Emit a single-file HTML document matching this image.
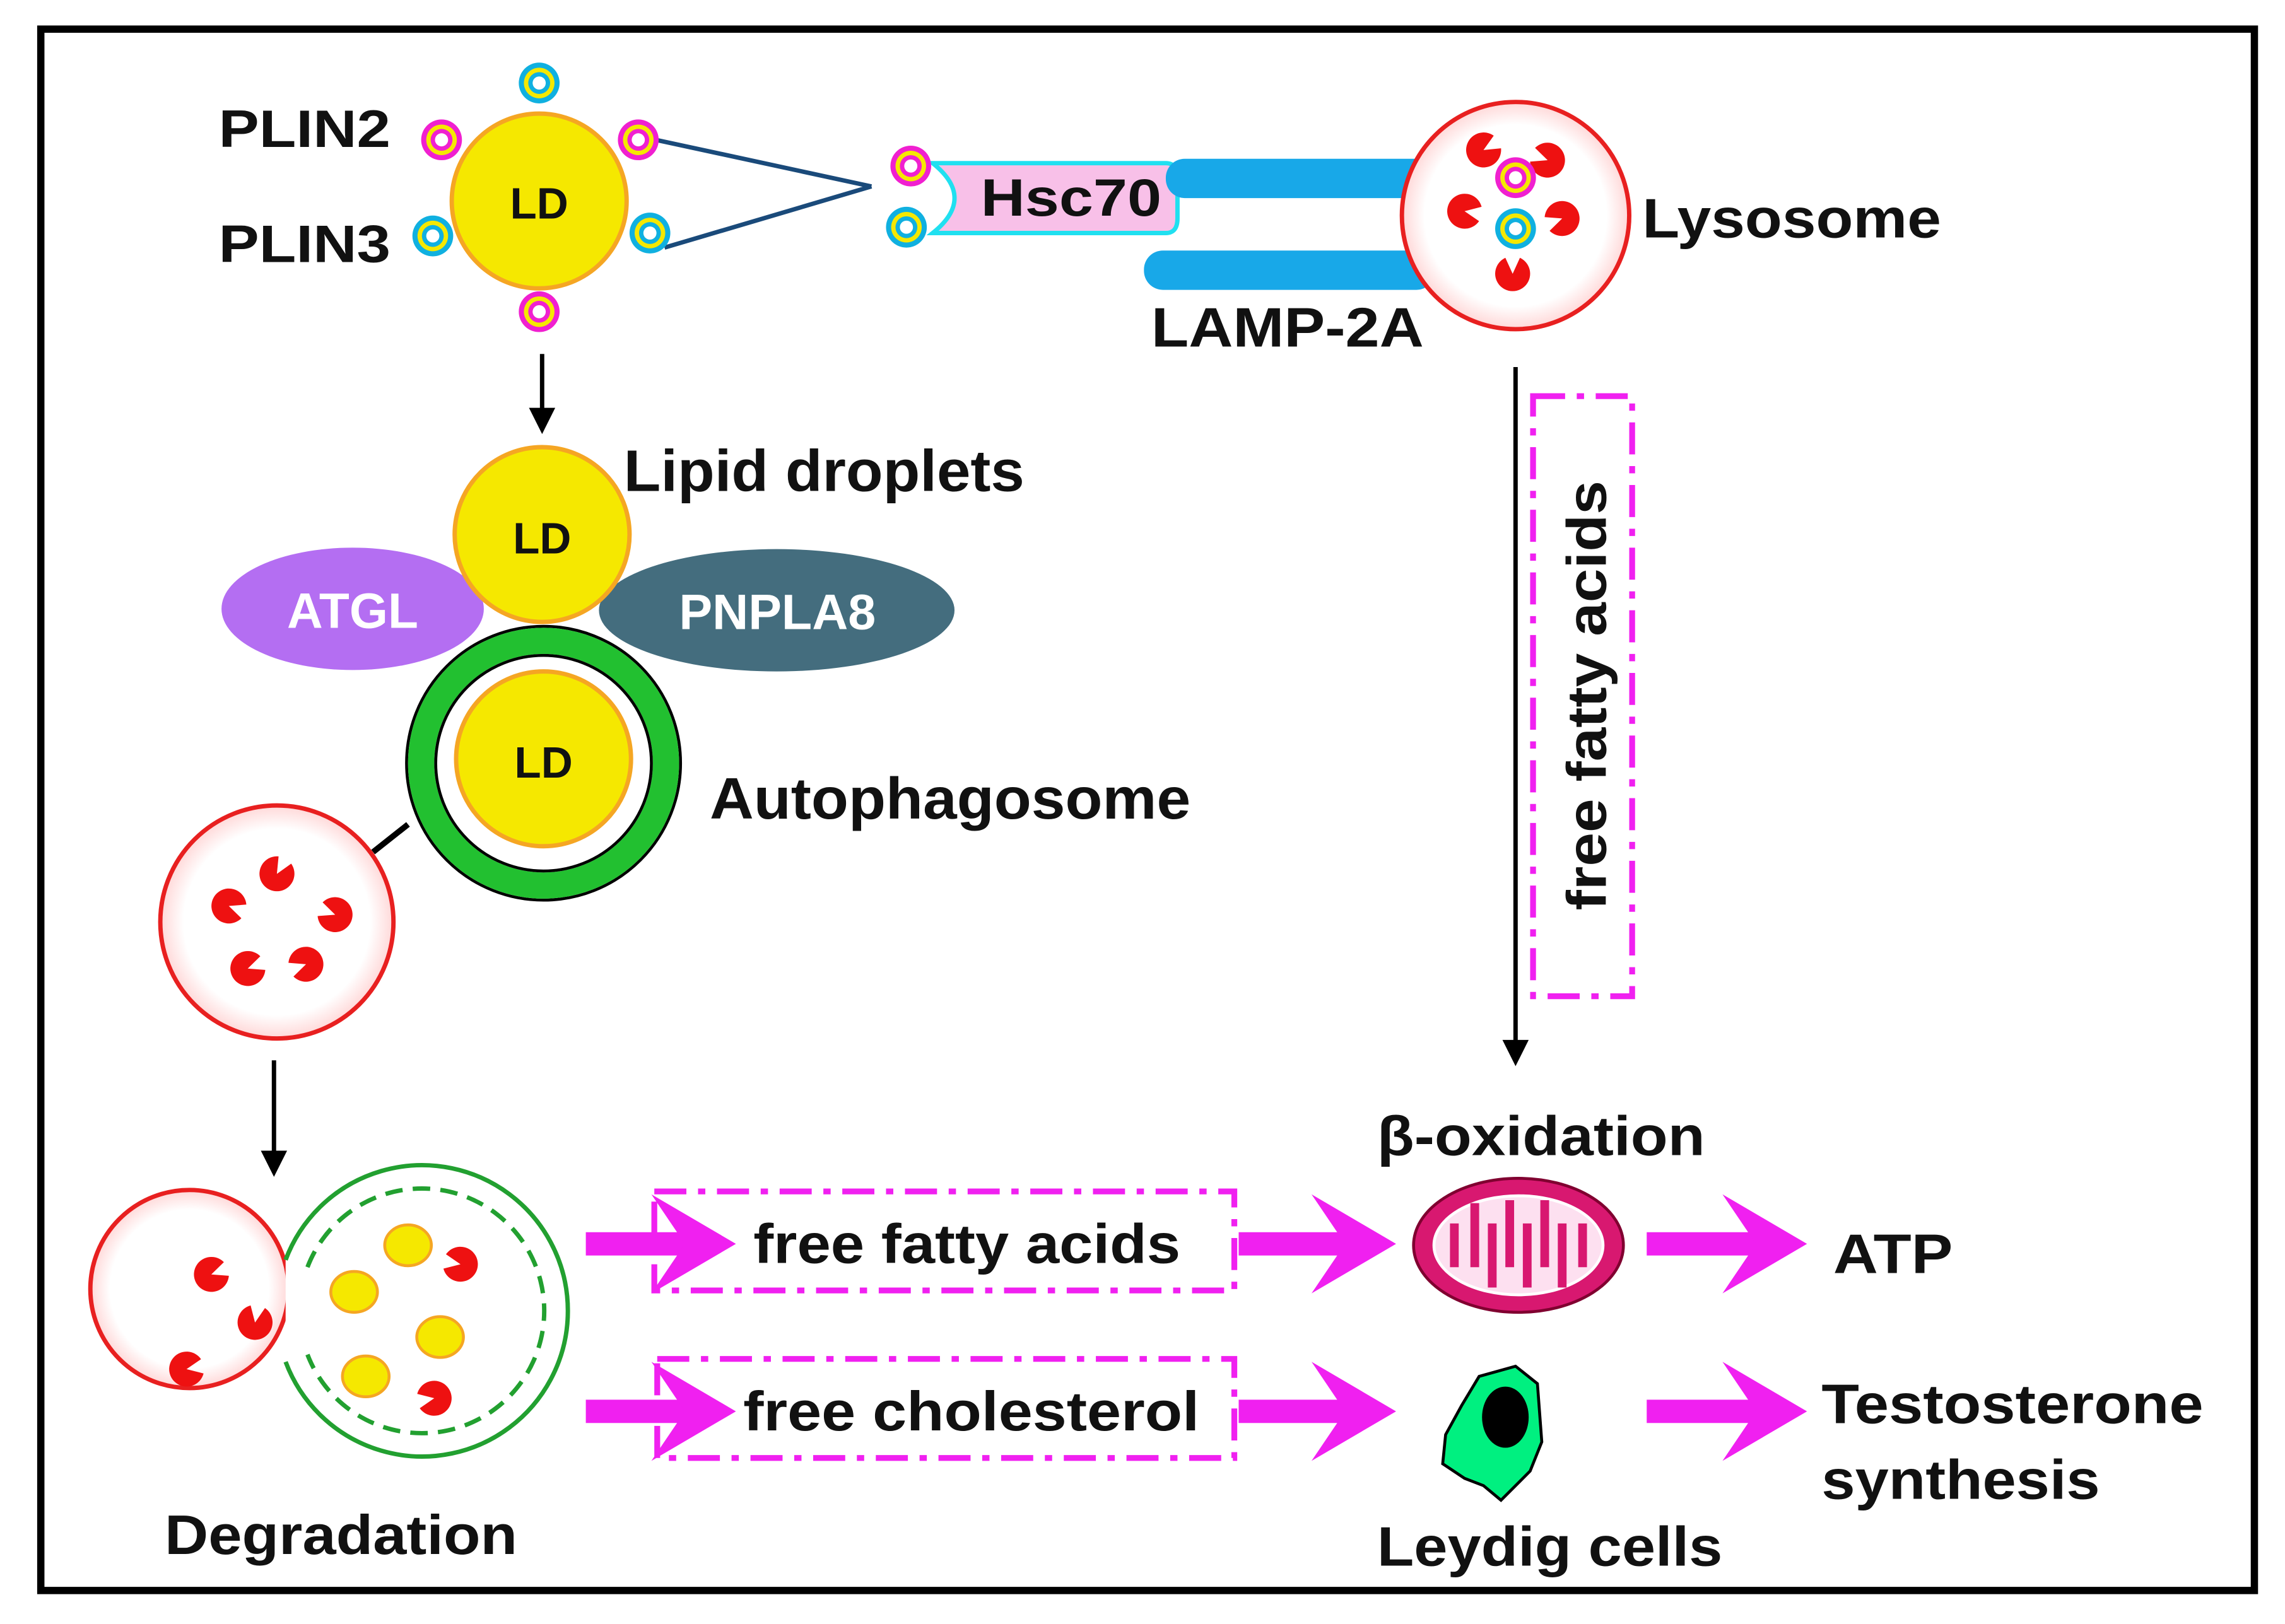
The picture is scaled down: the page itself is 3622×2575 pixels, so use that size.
<!DOCTYPE html>
<html><head><meta charset="utf-8"><style>
html,body{margin:0;padding:0;background:#fff}
svg{display:block}
text{font-family:"Liberation Sans",Arial,sans-serif;font-weight:bold;fill:#111}
</style></head><body>
<svg width="3622" height="2575" viewBox="0 0 1568 1115" preserveAspectRatio="none" xmlns="http://www.w3.org/2000/svg">
<defs>
<g id="rm"><circle r="14" fill="#f020d0"/><circle r="10.5" fill="#f5e800"/><circle r="7.5" fill="#f020d0"/><circle r="4.5" fill="#fff"/></g>
<g id="rc"><circle r="14" fill="#10b0e0"/><circle r="10.5" fill="#f5e800"/><circle r="7.5" fill="#10b0e0"/><circle r="4.5" fill="#fff"/></g>
<path id="pac" d="M0,0 L11,-5 A12,12 0 1 0 11,5 Z" fill="#ee1111"/>
<radialGradient id="lys" cx="0.5" cy="0.5" r="0.5"><stop offset="0.8" stop-color="#fff"/><stop offset="1" stop-color="#ffd8d8"/></radialGradient>
</defs>
<rect x="28" y="20" width="1519" height="1072" fill="#fff" stroke="#000" stroke-width="5"/>

<!-- Top LD -->
<line x1="450" y1="96" x2="598" y2="128" stroke="#1a4a7a" stroke-width="3"/>
<line x1="456" y1="170" x2="598" y2="128" stroke="#1a4a7a" stroke-width="3"/>
<circle cx="370" cy="138" r="60" fill="#f5e800" stroke="#f5a623" stroke-width="3"/>
<text x="370" y="150" font-size="30" text-anchor="middle">LD</text>
<use href="#rc" x="370" y="57"/><use href="#rm" x="303" y="96"/><use href="#rm" x="438" y="96"/>
<use href="#rc" x="297" y="162"/><use href="#rc" x="446" y="160"/><use href="#rm" x="370" y="214"/>
<text x="150" y="101" font-size="36" textLength="118" lengthAdjust="spacingAndGlyphs">PLIN2</text>
<text x="150" y="180" font-size="36" textLength="118" lengthAdjust="spacingAndGlyphs">PLIN3</text>

<!-- Hsc70 -->
<path d="M640,112 L800,112 Q808,112 808,122 L808,150 Q808,160 800,160 L640,160 Q670,136 640,112 Z" fill="#f8c0e8" stroke="#20e0f0" stroke-width="3"/>
<use href="#rm" x="625" y="114"/><use href="#rc" x="622" y="156"/>
<text x="673" y="148" font-size="36" textLength="124" lengthAdjust="spacingAndGlyphs">Hsc70</text>
<rect x="800" y="109" width="187" height="27" rx="13" fill="#18a8e8"/>
<rect x="785" y="172" width="200" height="27" rx="13" fill="#18a8e8"/>
<text x="790" y="238" font-size="38" textLength="187" lengthAdjust="spacingAndGlyphs">LAMP-2A</text>

<!-- Lysosome top -->
<circle cx="1040" cy="148" r="78" fill="url(#lys)" stroke="#e82020" stroke-width="3"/>
<use href="#pac" transform="translate(1018,103) rotate(-30)"/>
<use href="#pac" transform="translate(1062,110) rotate(200)"/>
<use href="#pac" transform="translate(1005,145) rotate(10)"/>
<use href="#pac" transform="translate(1072,150) rotate(160)"/>
<use href="#pac" transform="translate(1038,188) rotate(-90)"/>
<use href="#rm" x="1040" y="122"/><use href="#rc" x="1040" y="157"/>
<text x="1127" y="163" font-size="38" textLength="205" lengthAdjust="spacingAndGlyphs">Lysosome</text>

<!-- arrow down -->
<line x1="372" y1="243" x2="372" y2="285" stroke="#000" stroke-width="3"/>
<polygon points="363,280 381,280 372,298" fill="#000"/>

<!-- LD2 + enzymes -->
<ellipse cx="242" cy="418" rx="90" ry="42" fill="#b46ef2"/>
<ellipse cx="533" cy="419" rx="122" ry="42" fill="#446d7e"/>
<circle cx="372" cy="367" r="60" fill="#f5e800" stroke="#f5a623" stroke-width="3"/>
<text x="372" y="380" font-size="30" text-anchor="middle">LD</text>
<text x="428" y="337" font-size="40" textLength="275" lengthAdjust="spacingAndGlyphs">Lipid droplets</text>
<text x="197" y="431" font-size="34" textLength="90" lengthAdjust="spacingAndGlyphs" style="fill:#fff">ATGL</text>
<text x="466" y="432" font-size="34" textLength="135" lengthAdjust="spacingAndGlyphs" style="fill:#fff">PNPLA8</text>

<!-- Autophagosome -->
<circle cx="373" cy="524" r="94" fill="#fff" stroke="#000" stroke-width="2"/>
<circle cx="373" cy="524" r="84" fill="none" stroke="#22c030" stroke-width="18"/>
<circle cx="373" cy="524" r="74" fill="#fff" stroke="#000" stroke-width="2"/>
<circle cx="373" cy="521" r="60" fill="#f5e800" stroke="#f5a623" stroke-width="3"/>
<text x="373" y="534" font-size="30" text-anchor="middle">LD</text>
<text x="487" y="562" font-size="40" textLength="330" lengthAdjust="spacingAndGlyphs">Autophagosome</text>
<line x1="256" y1="585" x2="280" y2="566" stroke="#000" stroke-width="4"/>

<!-- lysosome 2 -->
<circle cx="190" cy="633" r="80" fill="url(#lys)" stroke="#e82020" stroke-width="3"/>
<use href="#pac" transform="translate(190,600) rotate(-60)"/>
<use href="#pac" transform="translate(157,622) rotate(20)"/>
<use href="#pac" transform="translate(230,628) rotate(200)"/>
<use href="#pac" transform="translate(170,665) rotate(-20)"/>
<use href="#pac" transform="translate(210,662) rotate(160)"/>

<line x1="188" y1="728" x2="188" y2="795" stroke="#000" stroke-width="3"/>
<polygon points="179,790 197,790 188,808" fill="#000"/>

<!-- Degradation -->
<circle cx="130" cy="885" r="68" fill="url(#lys)" stroke="#e82020" stroke-width="3"/>
<path d="M196,865 A100,100 0 1 1 196,935" fill="#fff" stroke="#22a030" stroke-width="3"/>
<path d="M211,870 A84,84 0 1 1 211,930" fill="none" stroke="#22a030" stroke-width="3" stroke-dasharray="12,7"/>
<use href="#pac" transform="translate(145,875) rotate(-20)"/>
<use href="#pac" transform="translate(175,908) rotate(-80)"/>
<use href="#pac" transform="translate(128,940) rotate(-10)"/>
<use href="#pac" transform="translate(316,868) rotate(190)"/>
<use href="#pac" transform="translate(298,960) rotate(170)"/>
<g fill="#f5e800" stroke="#f5a623" stroke-width="2">
<ellipse cx="280" cy="855" rx="16" ry="14"/><ellipse cx="243" cy="887" rx="16" ry="14"/>
<ellipse cx="302" cy="918" rx="16" ry="14"/><ellipse cx="251" cy="945" rx="16" ry="14"/>
</g>
<text x="113" y="1067" font-size="38" textLength="242" lengthAdjust="spacingAndGlyphs">Degradation</text>

<!-- vertical arrow -->
<line x1="1040" y1="252" x2="1040" y2="718" stroke="#000" stroke-width="3"/>
<polygon points="1031,714 1049,714 1040,732" fill="#000"/>
<rect x="1052" y="272" width="68" height="412" fill="none" stroke="#f020f0" stroke-width="4" stroke-dasharray="22,8,5,8"/>
<text transform="translate(1102,625) rotate(-90)" font-size="38" textLength="295" lengthAdjust="spacingAndGlyphs">free fatty acids</text>

<!-- magenta arrows -->
<g fill="#f020f0">
<rect x="402" y="846" width="70" height="16"/><polygon points="447,820 505,854 447,888 470,854"/>
<rect x="850" y="846" width="80" height="16"/><polygon points="900,820 958,854 900,888 923,854"/>
<rect x="1130" y="846" width="80" height="16"/><polygon points="1182,820 1240,854 1182,888 1205,854"/>
<rect x="402" y="961" width="70" height="16"/><polygon points="447,935 505,969 447,1003 470,969"/>
<rect x="850" y="961" width="80" height="16"/><polygon points="900,935 958,969 900,1003 923,969"/>
<rect x="1130" y="961" width="80" height="16"/><polygon points="1182,935 1240,969 1182,1003 1205,969"/>
</g>
<rect x="449" y="818" width="398" height="68" fill="none" stroke="#f020f0" stroke-width="4" stroke-dasharray="22,8,5,8"/>
<rect x="451" y="933" width="396" height="68" fill="none" stroke="#f020f0" stroke-width="4" stroke-dasharray="22,8,5,8"/>
<text x="517" y="867" font-size="38" textLength="293" lengthAdjust="spacingAndGlyphs">free fatty acids</text>
<text x="510" y="982" font-size="38" textLength="313" lengthAdjust="spacingAndGlyphs">free cholesterol</text>

<!-- mitochondrion -->
<ellipse cx="1042" cy="855" rx="72" ry="46" fill="#d81870" stroke="#800030" stroke-width="2"/>
<ellipse cx="1042" cy="855" rx="58" ry="34" fill="#fde0f0" stroke="#fff" stroke-width="2"/>
<path d="M998,870 L998,840 M1012,826 L1012,870 M1024,884 L1024,840 M1036,824 L1036,870 M1048,884 L1048,840 M1060,824 L1060,870 M1072,884 L1072,840 M1086,840 L1086,870" stroke="#d81870" stroke-width="6" fill="none"/>
<text x="945" y="793" font-size="38" textLength="225" lengthAdjust="spacingAndGlyphs">β-oxidation</text>
<text x="1258" y="874" font-size="38" textLength="82" lengthAdjust="spacingAndGlyphs">ATP</text>

<!-- Leydig -->
<path d="M1015,945 L1040,938 L1055,950 L1058,990 L1050,1010 L1030,1030 L1018,1020 L1005,1015 L990,1005 L992,985 L1003,965 Z" fill="#00f080" stroke="#000" stroke-width="2"/>
<ellipse cx="1033" cy="973" rx="16" ry="21" fill="#000"/>
<text x="945" y="1075" font-size="38" textLength="237" lengthAdjust="spacingAndGlyphs">Leydig cells</text>
<text x="1250" y="977" font-size="38" textLength="262" lengthAdjust="spacingAndGlyphs">Testosterone</text>
<text x="1250" y="1029" font-size="38" textLength="191" lengthAdjust="spacingAndGlyphs">synthesis</text>
</svg>
</body></html>
